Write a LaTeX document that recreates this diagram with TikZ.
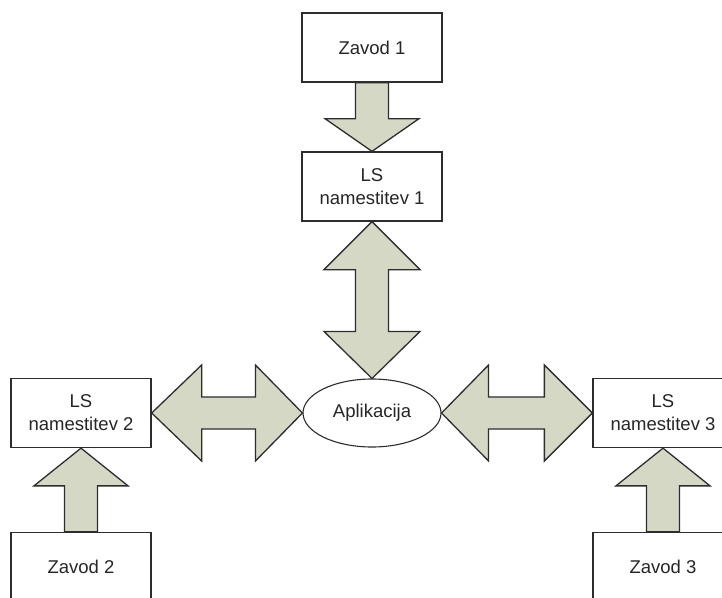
\documentclass[tikz,border=0pt]{standalone}
\usepackage{fontspec}
\setmainfont{Liberation Sans}
\usetikzlibrary{calc,shapes.geometric}
\definecolor{arrfill}{RGB}{214,216,198}
\definecolor{edgec}{RGB}{45,45,45}
\begin{document}
\begin{tikzpicture}[x=1pt,y=-1pt,
  box/.style={draw=edgec,line width=1.3pt,fill=white,minimum width=140pt,minimum height=69pt,inner sep=0pt,align=center,text=black!85,font=\fontsize{18.5}{23}\selectfont},
  ell/.style={ellipse,draw=edgec,line width=1.1pt,fill=white,minimum width=138pt,minimum height=68pt,inner sep=0pt,text=black!85,font=\fontsize{18.5}{23}\selectfont},
  blk/.style={draw=edgec,line width=1.3pt,fill=arrfill,line join=miter}]
\useasboundingbox (0,0) rectangle (722,597);
\clip (0,0) rectangle (722,597);
\fill[white] (0,0) rectangle (722,597);
% nodes
\node[box] (z1) at (372,47.5) {Zavod 1};
\node[box] (l1) at (372,186.5) {LS\\namestitev 1};
\node[ell] (ap) at (372,413) {Aplikacija};
\node[box] (l2) at (81,413) {LS\\namestitev 2};
\node[box] (l3) at (663,413) {LS\\namestitev 3};
\node[box] (z2) at (81,567) {Zavod 2};
\node[box] (z3) at (663,567) {Zavod 3};
% Zavod 1 -> LS 1
\draw[blk] ($(z1.south)+(-16.5,0)$) -- ($(z1.south)+(16.5,0)$) -- ($(z1.south)+(16.5,36)$)
  -- ($(z1.south)+(47,36)$) -- (l1.north) -- ($(z1.south)+(-47,36)$) -- ($(z1.south)+(-16.5,36)$) -- cycle;
% LS 1 <-> Aplikacija
\draw[blk] (l1.south) -- ($(l1.south)+(48,48)$) -- ($(l1.south)+(16.5,48)$) -- ($(ap.north)+(16.5,-47)$)
  -- ($(ap.north)+(48,-47)$) -- (ap.north) -- ($(ap.north)+(-48,-47)$) -- ($(ap.north)+(-16.5,-47)$)
  -- ($(l1.south)+(-16.5,48)$) -- ($(l1.south)+(-48,48)$) -- cycle;
% LS 2 <-> Aplikacija
\draw[blk] (l2.east) -- ($(l2.east)+(50,-48)$) -- ($(l2.east)+(50,-16)$) -- ($(ap.west)+(-47,-16)$)
  -- ($(ap.west)+(-47,-48)$) -- (ap.west) -- ($(ap.west)+(-47,48)$) -- ($(ap.west)+(-47,16)$)
  -- ($(l2.east)+(50,16)$) -- ($(l2.east)+(50,48)$) -- cycle;
% Aplikacija <-> LS 3
\draw[blk] (ap.east) -- ($(ap.east)+(47,-48)$) -- ($(ap.east)+(47,-16)$) -- ($(l3.west)+(-48,-16)$)
  -- ($(l3.west)+(-48,-48)$) -- (l3.west) -- ($(l3.west)+(-48,48)$) -- ($(l3.west)+(-48,16)$)
  -- ($(ap.east)+(47,16)$) -- ($(ap.east)+(47,48)$) -- cycle;
% Zavod 2 -> LS 2
\draw[blk] ($(z2.north)+(-16.5,0)$) -- ($(z2.north)+(16.5,0)$) -- ($(z2.north)+(16.5,-46)$)
  -- ($(z2.north)+(47,-46)$) -- (l2.south) -- ($(z2.north)+(-47,-46)$) -- ($(z2.north)+(-16.5,-46)$) -- cycle;
% Zavod 3 -> LS 3
\draw[blk] ($(z3.north)+(-16.5,0)$) -- ($(z3.north)+(16.5,0)$) -- ($(z3.north)+(16.5,-46)$)
  -- ($(z3.north)+(47,-46)$) -- (l3.south) -- ($(z3.north)+(-47,-46)$) -- ($(z3.north)+(-16.5,-46)$) -- cycle;
\end{tikzpicture}
\end{document}
